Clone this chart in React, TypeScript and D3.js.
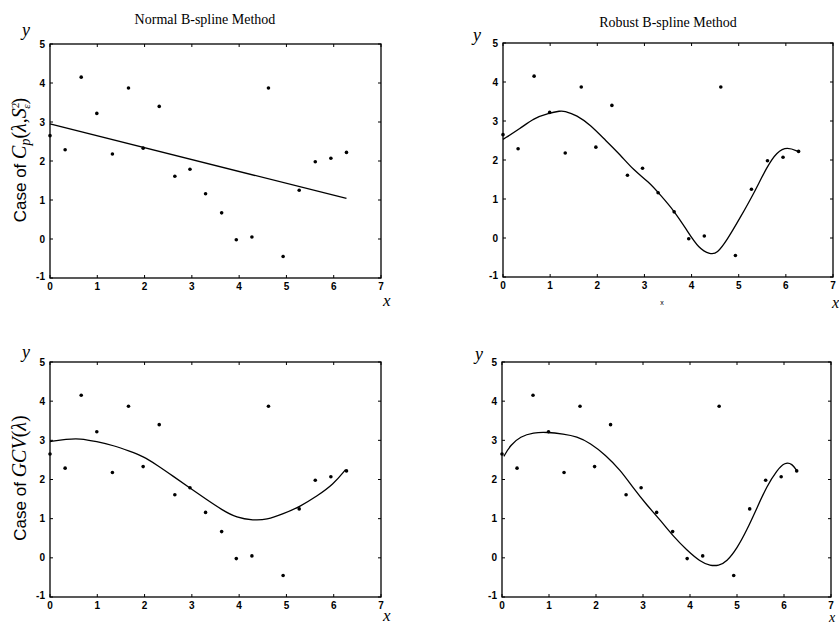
import React from 'react';
import * as d3 from 'd3';

// observed data (same in all four panels)
const dataX = [0, 0.32, 0.66, 0.99, 1.32, 1.66, 1.97, 2.31, 2.64, 2.96, 3.29, 3.63, 3.94, 4.27, 4.62, 4.93, 5.27, 5.61, 5.94, 6.27];
const dataY = [2.65, 2.29, 4.15, 3.22, 2.18, 3.87, 2.33, 3.4, 1.61, 1.79, 1.16, 0.67, -0.02, 0.05, 3.87, -0.45, 1.25, 1.98, 2.07, 2.22];

// fitted curves
const normalCpX = [0, 6.27];
const normalCpY = [2.95, 1.04];

const robustCpX = [0, 0.37, 0.65, 0.97, 1.22, 1.29, 1.57, 1.85, 2.17, 2.49, 2.77, 3.09, 3.34, 3.62, 3.9, 4.15, 4.4, 4.54, 4.75, 5.04, 5.32, 5.6, 5.81, 6.03, 6.27];
const robustCpY = [2.53, 2.81, 3.07, 3.2, 3.26, 3.26, 3.15, 2.9, 2.51, 2.13, 1.74, 1.44, 1.1, 0.71, 0.2, -0.27, -0.42, -0.4, -0.06, 0.54, 1.14, 1.83, 2.21, 2.34, 2.21];

const normalGcvX = [0, 0.35, 0.63, 0.99, 1.34, 1.69, 1.97, 2.25, 2.61, 2.96, 3.31, 3.63, 3.95, 4.3, 4.58, 4.93, 5.29, 5.64, 5.99, 6.25];
const normalGcvY = [2.97, 3.03, 3.05, 2.97, 2.87, 2.72, 2.59, 2.38, 2.08, 1.78, 1.49, 1.23, 1.02, 0.96, 0.97, 1.12, 1.31, 1.57, 1.87, 2.25];

const robustGcvX = [0.04, 0.18, 0.39, 0.67, 0.96, 1.31, 1.59, 1.88, 2.2, 2.52, 2.8, 3.08, 3.37, 3.65, 3.93, 4.22, 4.43, 4.61, 4.78, 5.0, 5.21, 5.42, 5.63, 5.85, 6.02, 6.17, 6.29];
const robustGcvY = [2.59, 2.88, 3.1, 3.2, 3.21, 3.16, 3.1, 2.93, 2.63, 2.24, 1.77, 1.35, 0.96, 0.54, 0.2, -0.1, -0.2, -0.2, -0.1, 0.24, 0.71, 1.26, 1.82, 2.24, 2.44, 2.41, 2.2];

const xTicks = [0, 1, 2, 3, 4, 5, 6, 7];
const yTicks = [-1, 0, 1, 2, 3, 4, 5];

const panels = [
  { key: 'tl', x0: 50, x1: 381, y0: 278, y1: 44, cx: normalCpX, cy: normalCpY },
  { key: 'tr', x0: 503, x1: 833, y0: 277, y1: 43, cx: robustCpX, cy: robustCpY },
  { key: 'bl', x0: 50, x1: 381, y0: 597, y1: 362, cx: normalGcvX, cy: normalGcvY },
  { key: 'br', x0: 502, x1: 831, y0: 597, y1: 362, cx: robustGcvX, cy: robustGcvY },
];

const tickFont = '"Liberation Sans", Arial, sans-serif';
const serif = '"Liberation Serif", "Times New Roman", serif';

function Panel({ p }: { p: typeof panels[number] }) {
  const x = d3.scaleLinear().domain([0, 7]).range([p.x0, p.x1]);
  const y = d3.scaleLinear().domain([-1, 5]).range([p.y0, p.y1]);
  const pts = p.cx.map((v, i) => [v, p.cy[i]] as [number, number]);
  const line = d3.line<[number, number]>()
    .x(d => x(d[0]))
    .y(d => y(d[1]))
    .curve(d3.curveBasis);
  const t = 3;
  return (
    <g>
      <rect x={p.x0} y={p.y1} width={p.x1 - p.x0} height={p.y0 - p.y1} fill="none" stroke="#000" strokeWidth={1.3} />
      {xTicks.map(v => (
        <g key={'x' + v}>
          <line x1={x(v)} x2={x(v)} y1={p.y0} y2={p.y0 - t} stroke="#000" />
          <line x1={x(v)} x2={x(v)} y1={p.y1} y2={p.y1 + t} stroke="#000" />
          <text x={x(v)} y={p.y0 + 12} textAnchor="middle" fontFamily={tickFont} fontSize={10} fontWeight="bold">{v}</text>
        </g>
      ))}
      {yTicks.map(v => (
        <g key={'y' + v}>
          <line x1={p.x0} x2={p.x0 + t} y1={y(v)} y2={y(v)} stroke="#000" />
          <line x1={p.x1} x2={p.x1 - t} y1={y(v)} y2={y(v)} stroke="#000" />
          <text x={p.x0 - 5} y={y(v) - (v === -1 ? 2 : 0)} dy="0.35em" textAnchor="end" fontFamily={tickFont} fontSize={10} fontWeight="bold">{v}</text>
        </g>
      ))}
      <path d={line(pts) || ''} fill="none" stroke="#000" strokeWidth={1.3} />
      {dataX.map((v, i) => (
        <circle key={i} cx={x(v)} cy={y(dataY[i])} r={1.8} fill="#000" />
      ))}
    </g>
  );
}

export default function App() {
  return (
    <svg width={839} height={626} style={{ position: 'absolute', left: 0, top: 0, background: '#fff' }}>
      <rect width={839} height={626} fill="#fff" />
      {panels.map(p => <Panel key={p.key} p={p} />)}

      <text x={205} y={24} textAnchor="middle" fontFamily={serif} fontSize={14}>Normal B-spline Method</text>
      <text x={668} y={27} textAnchor="middle" fontFamily={serif} fontSize={14}>Robust B-spline Method</text>

      <text x={22} y={36} fontFamily={serif} fontStyle="italic" fontSize={18}>y</text>
      <text x={473} y={41} fontFamily={serif} fontStyle="italic" fontSize={18}>y</text>
      <text x={22} y={358} fontFamily={serif} fontStyle="italic" fontSize={18}>y</text>
      <text x={475} y={360} fontFamily={serif} fontStyle="italic" fontSize={18}>y</text>

      <text x={383} y={306} fontFamily={serif} fontStyle="italic" fontSize={17}>x</text>
      <text x={832} y={308} fontFamily={serif} fontStyle="italic" fontSize={16}>x</text>
      <text x={662} y={305} fontFamily={tickFont} fontSize={7} textAnchor="middle">x</text>
      <text x={383} y={621} fontFamily={serif} fontStyle="italic" fontSize={17}>x</text>
      <text x={829} y={622} fontFamily={serif} fontStyle="italic" fontSize={14}>x</text>

      <text transform="translate(26,160) rotate(-90)" textAnchor="middle" fontFamily={tickFont} fontSize={17}>
        Case of <tspan fontFamily={serif} fontStyle="italic" fontSize={20}>C</tspan>
        <tspan fontFamily={serif} fontStyle="italic" fontSize={14} dy={4}>p</tspan>
        <tspan fontFamily={serif} fontSize={20} dy={-4}>(</tspan>
        <tspan fontFamily={serif} fontStyle="italic" fontSize={20}>λ</tspan>
        <tspan fontFamily={serif} fontSize={20}>,</tspan>
        <tspan fontFamily={serif} fontStyle="italic" fontSize={20}>S</tspan>
        <tspan fontFamily={serif} fontSize={11} dy={-7}>2</tspan>
        <tspan fontFamily={serif} fontStyle="italic" fontSize={11} dx={-6} dy={11}>ε</tspan>
        <tspan fontFamily={serif} fontSize={20} dy={-4}>)</tspan>
      </text>
      <text transform="translate(26,478) rotate(-90)" textAnchor="middle" fontFamily={tickFont} fontSize={17}>
        Case of <tspan fontFamily={serif} fontStyle="italic" fontSize={20}>GCV</tspan>
        <tspan fontFamily={serif} fontSize={20}>(</tspan>
        <tspan fontFamily={serif} fontStyle="italic" fontSize={20}>λ</tspan>
        <tspan fontFamily={serif} fontSize={20}>)</tspan>
      </text>
    </svg>
  );
}
